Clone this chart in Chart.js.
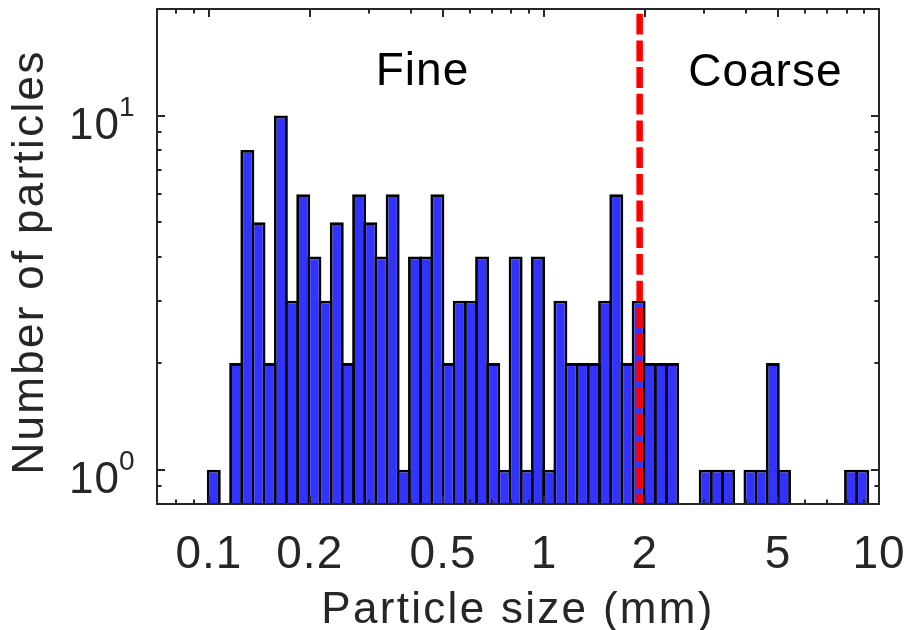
<!DOCTYPE html>
<html>
<head>
<meta charset="utf-8">
<title>Particle size distribution</title>
<script src="https://cdn.jsdelivr.net/npm/chart.js@4.4.1/dist/chart.umd.min.js"></script>
<style>
  html, body { margin: 0; padding: 0; background: #fff; }
</style>
</head>
<body>
<canvas id="sizeChart" width="906" height="630"></canvas>
<script>
// histogram bins: centres in mm (equal width on a log axis) and particle counts
const binCentres = [
    0.10342, 0.11168, 0.12060, 0.13023, 0.14063, 0.15186, 0.16399, 0.17708, 0.19122, 0.20650,
    0.22299, 0.24080, 0.26003, 0.28079, 0.30322, 0.32743, 0.35358, 0.38182, 0.41231, 0.44523,
    0.48079, 0.51918, 0.56064, 0.60541, 0.65375, 0.70596, 0.76233, 0.82321, 0.88895, 0.95994,
    1.0368, 1.1196, 1.2090, 1.3056, 1.4098, 1.5224, 1.6440, 1.7753, 1.9170, 2.0701,
    2.2354, 2.4140, 2.6068, 2.8150, 3.0398, 3.2826, 3.5447, 3.8278, 4.1335, 4.4636,
    4.8200, 5.2049, 5.6206, 6.0695, 6.5541, 7.0775, 7.6426, 8.2530, 8.9121
];
const counts = [
    1, null, 2, 8, 5, 2, 10, 3, 6, 4,
    3, 5, 2, 6, 5, 4, 6, 1, 4, 4,
    6, 2, 3, 3, 4, 2, 1, 4, 1, 4,
    1, 3, 2, 2, 2, 3, 6, 2, 3, 2,
    2, 2, null, null, 1, 1, 1, null, 1, 1,
    2, 1, null, null, null, null, null, 1, 1
];

const xTickValues = [0.1, 0.2, 0.5, 1, 2, 5, 10];
const xTickLabels = ['0.1', '0.2', '0.5', '1', '2', '5', '10'];
const xMinorTicks = [0.08, 0.09, 0.3, 0.4, 0.6, 0.7, 0.8, 0.9, 3, 4, 6, 7, 8, 9];
const yTickValues = [1, 10];
const yTickExponents = ['0', '1'];
const yMinorTicks = [0.9, 2, 3, 4, 5, 6, 7, 8, 9];

const cutoffSize = 1.93;   // fine / coarse boundary (mm)
const regionNames = ['Fine', 'Coarse'];

const X_MIN = 0.07, X_MAX = 10;
const Y_MIN = 0.8, Y_MAX = 20;

const FONT = "'Liberation Sans', Arial, Helvetica, sans-serif";
const AXIS_COLOR = '#262626';

// box, inward ticks, y labels with exponents, axis titles and region names
const axesPlugin = {
    id: 'axesPlugin',
    beforeDraw(chart) {
        chart.ctx.letterSpacing = '1px';
    },
    afterDatasetsDraw(chart) {
        const ctx = chart.ctx;
        const area = chart.chartArea;
        const xs = chart.scales.x;
        const ys = chart.scales.y;

        ctx.save();
        ctx.strokeStyle = AXIS_COLOR;
        ctx.lineWidth = 2;
        ctx.lineCap = 'butt';

        function xTick(v, len) {
            const px = Math.round(xs.getPixelForValue(v));
            ctx.beginPath();
            ctx.moveTo(px, area.bottom);
            ctx.lineTo(px, area.bottom - len);
            ctx.moveTo(px, area.top);
            ctx.lineTo(px, area.top + len);
            ctx.stroke();
        }
        function yTick(v, len) {
            const py = Math.round(ys.getPixelForValue(v));
            ctx.beginPath();
            ctx.moveTo(area.left, py);
            ctx.lineTo(area.left + len, py);
            ctx.moveTo(area.right, py);
            ctx.lineTo(area.right - len, py);
            ctx.stroke();
        }
        xTickValues.forEach(v => xTick(v, 8));
        xMinorTicks.forEach(v => xTick(v, 4.5));
        yTickValues.forEach(v => yTick(v, 8));
        yMinorTicks.forEach(v => yTick(v, 4.5));

        ctx.strokeRect(area.left, area.top, area.right - area.left, area.bottom - area.top);

        // y tick labels as 10 with a raised exponent
        ctx.fillStyle = AXIS_COLOR;
        ctx.textBaseline = 'alphabetic';
        ctx.letterSpacing = '1px';
        yTickValues.forEach((v, i) => {
            const py = ys.getPixelForValue(v);
            ctx.font = '44px ' + FONT;
            ctx.textAlign = 'right';
            ctx.fillText('10', 120, py + 23.5);
            ctx.font = '28px ' + FONT;
            ctx.textAlign = 'left';
            ctx.fillText(yTickExponents[i], 119, py + 0.5);
        });

        // axis titles
        ctx.font = '44px ' + FONT;
        ctx.letterSpacing = '2.3px';
        ctx.textAlign = 'center';
        ctx.fillText('Particle size (mm)', (area.left + area.right) / 2, 623);
        ctx.save();
        ctx.translate(43, 262);
        ctx.rotate(-Math.PI / 2);
        ctx.fillText('Number of particles', 0, 0);
        ctx.restore();

        // region names either side of the cutoff
        ctx.fillStyle = '#000';
        ctx.font = '46px ' + FONT;
        ctx.letterSpacing = '1px';
        ctx.fillText(regionNames[0], xs.getPixelForValue(0.434), 85);
        ctx.fillText(regionNames[1], xs.getPixelForValue(4.58), 86);
        ctx.restore();
    }
};

const ctx = document.getElementById('sizeChart').getContext('2d');
new Chart(ctx, {
    type: 'bar',
    data: {
        datasets: [
            {
                type: 'line',
                data: [{ x: cutoffSize, y: Y_MAX }, { x: cutoffSize, y: Y_MIN }],
                borderColor: '#ff0000',
                borderWidth: 6.5,
                borderDash: [20.8, 5.9],
                borderDashOffset: 22,
                pointRadius: 0,
                fill: false,
                order: 0
            },
            {
                data: binCentres.map((x, i) => ({ x: x, y: counts[i] })),
                backgroundColor: '#3333ff',
                borderColor: '#000000',
                borderWidth: 2.8,
                barPercentage: 1.25,
                categoryPercentage: 1,
                order: 1
            }
        ]
    },
    options: {
        responsive: false,
        animation: false,
        layout: { padding: { top: 9, right: 27, bottom: 0, left: 0 } },
        plugins: {
            legend: { display: false },
            tooltip: { enabled: false }
        },
        scales: {
            x: {
                type: 'logarithmic',
                min: X_MIN,
                max: X_MAX,
                offset: false,
                grid: { display: false },
                border: { display: false },
                afterBuildTicks: scale => {
                    scale.ticks = xTickValues.map(v => ({ value: v }));
                },
                afterFit: scale => {
                    scale.height = 126;
                    scale.paddingLeft = 0;
                    scale.paddingRight = 0;
                },
                ticks: {
                    autoSkip: false,
                    maxRotation: 0,
                    padding: 16,
                    color: AXIS_COLOR,
                    font: { family: FONT, size: 46 },
                    callback: (value, index) => xTickLabels[index]
                }
            },
            y: {
                type: 'logarithmic',
                min: Y_MIN,
                max: Y_MAX,
                grid: { display: false },
                border: { display: false },
                ticks: { display: false },
                afterFit: scale => {
                    scale.width = 157;
                    scale.paddingTop = 0;
                    scale.paddingBottom = 0;
                }
            }
        }
    },
    plugins: [axesPlugin]
});
</script>
</body>
</html>
